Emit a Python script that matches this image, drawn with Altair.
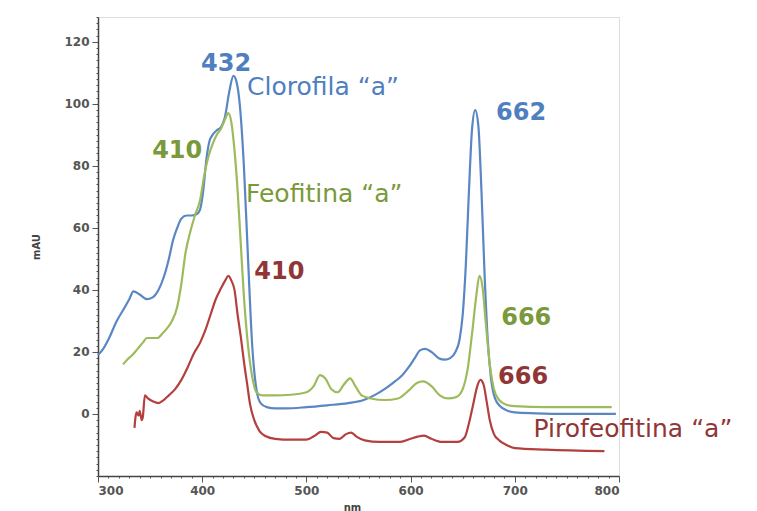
import altair as alt
import pandas as pd

# --- data (wavelength nm, absorbance mAU) ---
clorofila = [(300,19),(305,21),(310,24),(318,30),(325,34),(330,37),(334,39.5),(340,38.5),(347,37),
             (352,37.5),(358,40),(363,44),(368,50),(372,56),(376,60),(380,63),(385,64),(390,64),
             (395,64.5),(398,66),(401,72),(404,82),(407,88),(410,90),(414,91.5),(418,92.5),(422,96),
             (426,104),(430,109),(433,107),(436,100),(440,80),(444,50),(448,22),(452,8),(456,3.5),
             (462,2.2),(470,1.8),(480,1.8),(500,2.2),(520,2.8),(540,3.5),(555,4.5),(565,6),(575,8),
             (585,10.5),(592,12.5),(598,15),(604,18),(609,20.5),(614,21),(620,20),(627,18),(633,17.5),
             (638,18),(643,20),(647,24),(650,32),(653,48),(656,72),(659,92),(662,98),(665,93),(668,72),
             (671,45),(674,24),(677,12),(681,5),(686,2.5),(692,1.2),(700,0.5),(720,0.2),(750,0),(797,0)]

feofitina = [(324,16),(328,17.5),(333,19),(338,21),(343,23),(347,24.5),(352,24.5),(357,24.5),(362,26),
             (366,27.5),(371,30),(376,34.5),(380,42),(384,52),(388,58),(393,64),(398,69),(402,77),
             (406,83),(410,87),(414,90),(418,92),(422,95),(425,97),(428,94),(431,85),(434,72),(437,55),
             (440,38),(444,22),(448,12),(452,7),(458,6),(470,6),(485,6.2),(500,7),(507,9),(513,12.5),
             (518,11.5),(524,8),(530,7),(536,9.5),(542,11.5),(547,9),(553,6),(562,5),(575,4.5),(588,5),
             (598,7.5),(606,10),(612,10.5),(620,9),(628,6),(636,5),(644,5.5),(650,8),(655,15),(659,26),
             (663,38),(666,44.5),(669,41),(672,30),(676,16),(680,8),(685,4.5),(692,3),(700,2.5),
             (730,2.2),(793,2.2)]

pirofeofitina = [(335,-4.5),(336,-1),(337,0.5),(339,-0.5),(340,1),(342,-2),(343,-1),(345,6),(348,5),
                 (353,4),(358,3.5),(363,4.5),(368,6),(374,8),(380,11),(386,15),(392,19.5),(398,23),
                 (403,27),(408,32),(413,37),(418,40.5),(422,43),(425,44.5),(428,43),(431,40),(434,32),
                 (437,25),(440,17),(443,10),(446,3),(450,-2),(455,-5.5),(460,-7),(470,-8),(485,-8.3),
                 (500,-8.3),(508,-7),(514,-5.8),(520,-6),(526,-7.8),(532,-8),(538,-6.5),(543,-6),
                 (548,-7.3),(556,-8.5),(570,-9),(590,-9),(600,-8),(607,-7.3),(613,-7),(620,-8),(630,-9),
                 (645,-9),(652,-7.5),(656,-3),(660,3),(664,9),(667,11),(670,9.5),(673,4),(676,-2),
                 (680,-6.5),(685,-8.5),(692,-10),(700,-11),(730,-11.5),(786,-12)]

series_names = ["Clorofila", "Feofitina", "Pirofeofitina"]
line_colors = ["#5a86c4", "#9dbb5c", "#b3403f"]
text_colors = ["#4f7fbf", "#7a993a", "#913636"]

# annotations: (text, nm, mAU, series, bold)
labels = [
    ("432", 423, 113, "Clorofila", True),
    ("Clorofila \u201ca\u201d", 443, 105.5, "Clorofila", False),
    ("410", 376, 84.8, "Feofitina", True),
    ("Feofitina \u201ca\u201d", 442, 71, "Feofitina", False),
    ("410", 474, 45.8, "Pirofeofitina", True),
    ("662", 706, 97, "Clorofila", True),
    ("666", 711, 31, "Feofitina", True),
    ("666", 708, 12, "Pirofeofitina", True),
    ("Pirofeofitina \u201ca\u201d", 718, -4.7, "Pirofeofitina", False),
]

x_ticks = list(range(300, 801, 10))
y_ticks = list(range(-20, 129, 2))
x_labels = [300, 400, 500, 600, 700, 800]
y_labels = [0, 20, 40, 60, 80, 100, 120]

rows = []
for name, pts in zip(series_names, [clorofila, feofitina, pirofeofitina]):
    for nm, v in pts:
        rows.append({"serie": name, "nm": nm, "mAU": v})
df = pd.DataFrame(rows)
lab = pd.DataFrame(labels, columns=["text", "nm", "mAU", "serie", "bold"])

xscale = alt.Scale(domain=[300, 800], nice=False, zero=False)
yscale = alt.Scale(domain=[-20, 128], nice=False, zero=False)

common_axis = dict(grid=False, labelOverlap=False, domainColor="#444", domainWidth=1.5,
                   tickColor="#555", tickWidth=1, labelFont="DejaVu Sans", labelFontWeight="bold",
                   labelFontSize=12, labelColor="#555", labelPadding=3, titleFont="DejaVu Sans",
                   titleFontSize=10, titleFontWeight="bold", titleColor="#444")

xlab_expr = "indexof([" + ",".join(str(v) for v in x_labels) + "], datum.value) >= 0"
ylab_expr = "indexof([" + ",".join(str(v) for v in y_labels) + "], datum.value) >= 0"

x_axis = alt.Axis(values=x_ticks, labelExpr=f"{xlab_expr} ? datum.label : ''",
                  tickSize={"condition": {"test": xlab_expr, "value": 6}, "value": 2},
                  titlePadding=6, titleX=254, **common_axis)
y_axis = alt.Axis(values=y_ticks, labelExpr=f"{ylab_expr} ? datum.label : ''",
                  tickSize={"condition": {"test": ylab_expr, "value": 6}, "value": 2},
                  titlePadding=22, **common_axis)

X = alt.X("nm:Q", scale=xscale, title="nm", axis=x_axis)
Y = alt.Y("mAU:Q", scale=yscale, title="mAU", axis=y_axis)

lines = alt.Chart(df).mark_line(strokeWidth=2.2, interpolate="monotone").encode(
    x=X, y=Y,
    color=alt.Color("serie:N", scale=alt.Scale(domain=series_names, range=line_colors), legend=None),
)

layers = [lines]
for name, tcol in zip(series_names, text_colors):
    for bold in (True, False):
        sub = lab[(lab.serie == name) & (lab.bold == bold)]
        if len(sub) == 0:
            continue
        layers.append(alt.Chart(sub).mark_text(
            font="DejaVu Sans", fontSize=24 if bold else 25,
            fontWeight="bold" if bold else "normal",
            align="center" if bold else "left", baseline="middle", color=tcol,
        ).encode(x=X, y=Y, text="text:N"))

chart = alt.layer(*layers).properties(
    width=521, height=459,
    autosize=alt.AutoSizeParams(type="none"),
    padding={"left": 90, "top": 9, "right": 130, "bottom": 35},
).configure_view(strokeWidth=0, stroke="transparent").configure(background="white")

chart.save("out.html", embed_options={"renderer": "svg", "actions": False})
